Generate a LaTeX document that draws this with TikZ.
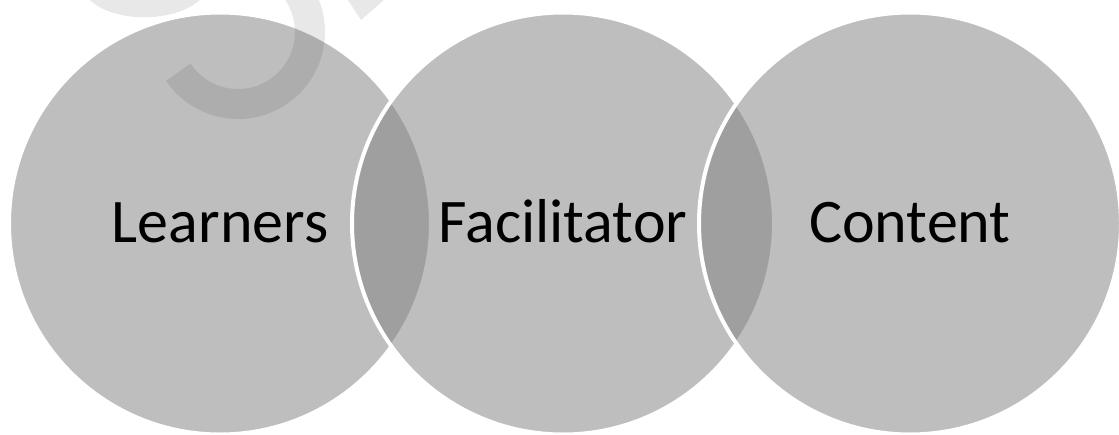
\documentclass[tikz,border=0pt]{standalone}
\usepackage{fontspec}
\setmainfont{Carlito}
\begin{document}
\begin{tikzpicture}[x=1pt,y=-1pt,
  venn/.style={circle, minimum size=422pt, inner sep=0pt, outer sep=0pt,
    fill=black!49, fill opacity=0.516, draw=white, draw opacity=1, line width=4pt},
  lbl/.style={anchor=base, inner sep=0pt, text=black,
    font=\fontsize{62}{74}\selectfont},
  faintmark/.style={fill=black, fill opacity=0.09, draw=none}]
  \useasboundingbox (0,0) rectangle (1119,434);
  % three overlapping circles, left to right
  \node[venn] (L) at (220,223.5) {};
  \node[venn] (F) at (563,223.5) {};
  \node[venn] (C) at (910,223.5) {};
  % captions
  \node[lbl] (tL) at ([yshift=-19.2pt]L.center) {Learners};
  \node[lbl] (tF) at ([yshift=-19.2pt]F.center) {Facilitator};
  \node[lbl] (tC) at ([yshift=-19.2pt]C.center) {Content};
  % faint background mark along the top edge
  \begin{scope}
    \clip (0,0) rectangle (1119,434);
    \fill[faintmark] (90,0) .. controls (112,22) and (172,24) .. (200,0) -- cycle;
    \draw[black, draw opacity=0.09, line width=30pt]
      (238,32) ++(146:72) arc[start angle=146, end angle=-45, radius=72];
    \fill[faintmark] (348,0) -- (361,20) -- (384,0) -- cycle;
  \end{scope}
\end{tikzpicture}
\end{document}
